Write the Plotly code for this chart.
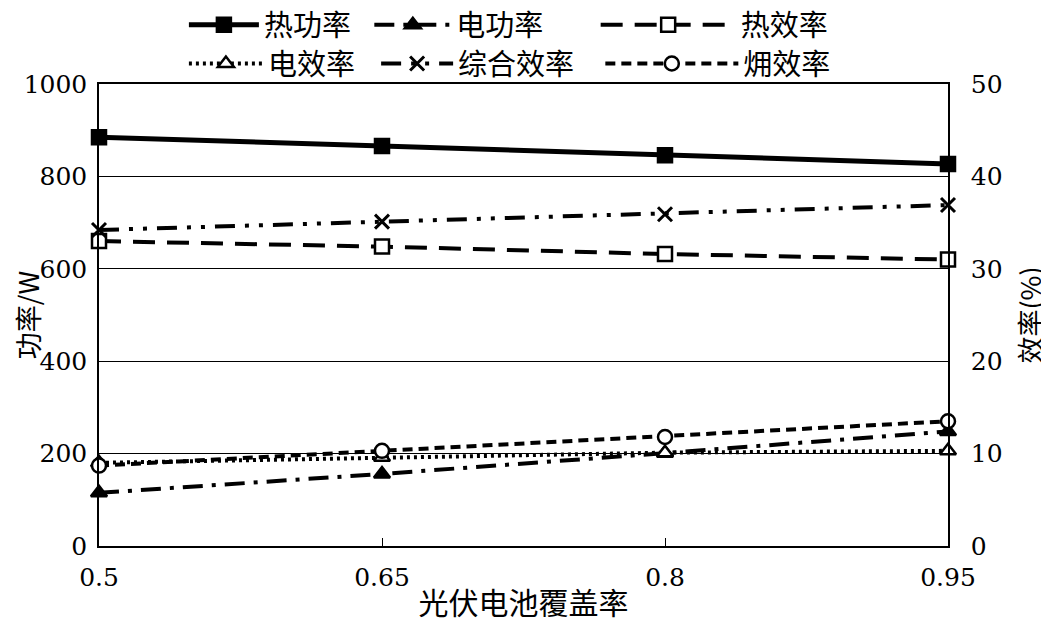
import plotly.graph_objects as go

coverage = [0.5, 0.65, 0.8, 0.95]
heat_power = [885, 866, 846, 827]
elec_power = [115, 156, 201, 248]
heat_eff = [33.0, 32.4, 31.6, 31.0]
elec_eff = [9.0, 9.6, 10.1, 10.3]
total_eff = [34.2, 35.1, 35.9, 36.9]
exergy_eff = [8.7, 10.3, 11.8, 13.5]
x_ticktext = ["0.5", "0.65", "0.8", "0.95"]

FONT = "DejaVu Serif, Noto Sans CJK SC"
CJK = "Noto Sans CJK SC"
NUM = "DejaVu Serif"
fig = go.Figure()

series = [
    ("热功率", heat_power, "y", "solid", 5, "square", "black", "legend"),
    ("电功率", elec_power, "y", "20px,9px,4px,9px", 4, "triangle-up", "black", "legend2"),
    ("热效率", heat_eff, "y2", "22px,12px", 4, "square", "white", "legend3"),
    ("电效率", elec_eff, "y2", "3px,4px", 4, "triangle-up", "white", "legend4"),
    ("综合效率", total_eff, "y2", "20px,10px,4px,10px,4px,10px", 4, "x-thin", "black", "legend5"),
    ("㶲效率", exergy_eff, "y2", "10px,6px", 4, "circle", "white", "legend6"),
]
for name, vals, ax, dash, w, sym, fill, leg in series:
    fig.add_trace(go.Scatter(
        x=coverage, y=vals, name=name, yaxis=ax, mode="lines+markers",
        line=dict(color="black", width=w, dash=dash),
        marker=dict(symbol=sym, size=14, color=fill,
                    line=dict(color="black", width=3 if sym == "x-thin" else 2.5)),
        cliponaxis=False, legend=leg,
    ))

legfont = dict(family=CJK, size=29, color="black")
def L(x, y, w):
    return dict(x=x, y=y, xref="paper", yref="paper", xanchor="left", yanchor="middle",
                orientation="v", font=legfont, bgcolor="rgba(0,0,0,0)", itemwidth=w)

fig.update_layout(
    width=1041, height=622,
    margin=dict(l=91, r=101, t=76, b=84, autoexpand=False),
    paper_bgcolor="white", plot_bgcolor="white",
    font=dict(family=FONT, size=27, color="black"),
    showlegend=True,
    legend=L(0.100, 1.128, 70),
    legend2=L(0.3184, 1.128, 77),
    legend3=L(0.585, 1.128, 135),
    legend4=L(0.100, 1.044, 74),
    legend5=L(0.3264, 1.044, 72),
    legend6=L(0.5905, 1.044, 133),
    xaxis=dict(range=[0.5, 0.95], tickvals=coverage, ticktext=x_ticktext,
               showgrid=False, zeroline=False, showline=True, linecolor="black", linewidth=1.5,
               mirror=True, ticks="inside", ticklen=8, tickcolor="black", ticklabelstandoff=8,
               automargin=False,
               tickfont=dict(size=25, family=NUM),
               title=dict(text="光伏电池覆盖率", font=dict(size=30, family=CJK), standoff=2)),
    yaxis=dict(range=[0, 1000], tickvals=[0, 200, 400, 600, 800, 1000],
               showgrid=True, gridcolor="black", gridwidth=1, zeroline=False, automargin=False,
               showline=True, linecolor="black", linewidth=1.5, ticks="", ticklabelstandoff=5,
               tickfont=dict(size=25, family=NUM),
               title=dict(text="功率/W", font=dict(size=27, family=CJK), standoff=3)),
    yaxis2=dict(range=[0, 50], tickvals=[0, 10, 20, 30, 40, 50], overlaying="y", side="right",
                showgrid=False, zeroline=False, showline=True, linecolor="black", linewidth=1.5,
                ticks="", tickfont=dict(size=25, family=NUM), ticklabelstandoff=16, automargin=False,
                title=dict(text="效率(%)", font=dict(size=27, family=CJK), standoff=21)),
)
fig.write_html("out.html")
